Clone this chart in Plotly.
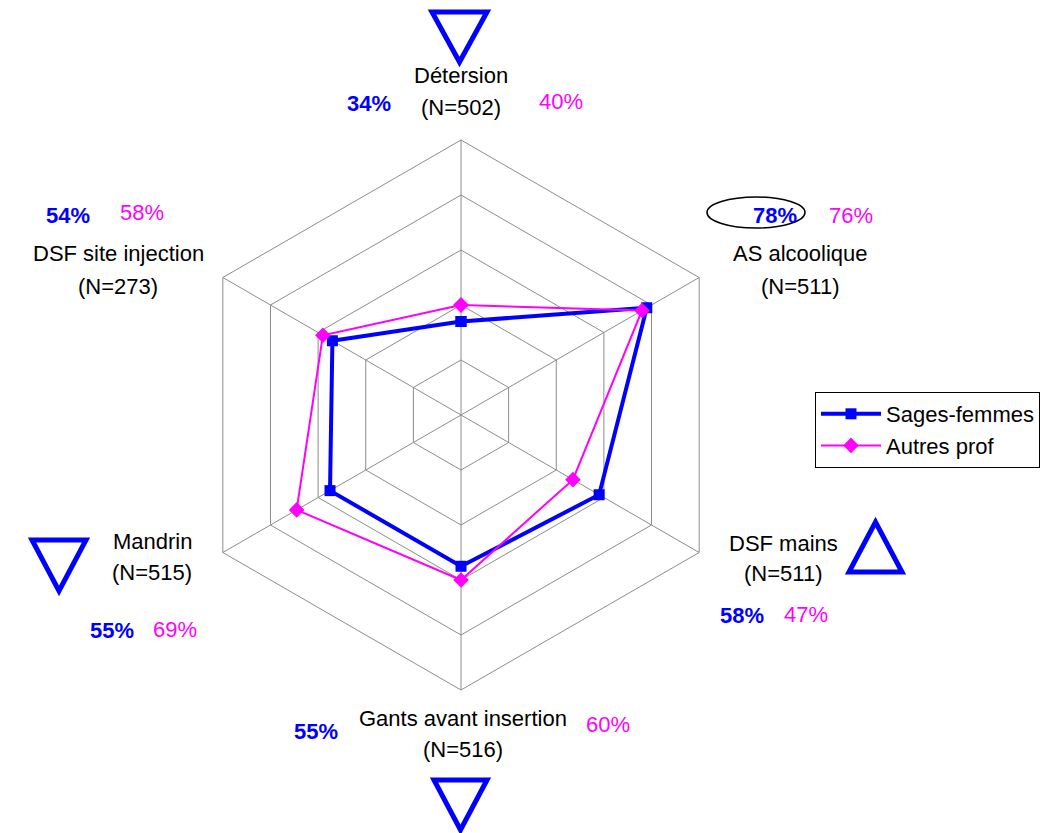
import plotly.graph_objects as go

W, H = 1052, 833
OFF = 8  # page body margin

categories = ["Détersion", "AS alcoolique", "DSF mains", "Gants avant insertion", "Mandrin", "DSF site injection"]
sages_femmes = [34, 78, 58, 55, 55, 54]
autres_prof = [40, 76, 47, 60, 69, 58]
n_labels = ["(N=502)", "(N=511)", "(N=511)", "(N=516)", "(N=515)", "(N=273)"]
series_names = ["Sages-femmes", "Autres prof"]

BLUE = "#0000FF"
MAG = "#FF00FF"
FONT = "Liberation Sans, Arial, sans-serif"
FS = 22


def px(x):
    return (x - OFF) / W


def py(y):
    return 1 - (y - OFF) / H


fig = go.Figure()
fig.add_trace(go.Scatterpolar(
    r=[v / 100 for v in sages_femmes] + [sages_femmes[0] / 100],
    theta=categories + [categories[0]],
    mode="lines+markers", name=series_names[0],
    line=dict(color=BLUE, width=4),
    marker=dict(symbol="square", size=11, color=BLUE),
))
fig.add_trace(go.Scatterpolar(
    r=[v / 100 for v in autres_prof] + [autres_prof[0] / 100],
    theta=categories + [categories[0]],
    mode="lines+markers", name=series_names[1],
    line=dict(color=MAG, width=2),
    marker=dict(symbol="diamond", size=12, color=MAG),
))

cx, cy, R = 461, 415, 275
fig.update_layout(
    width=W, height=H,
    margin=dict(l=0, r=0, t=0, b=0, autoexpand=False),
    paper_bgcolor="white", plot_bgcolor="white",
    font=dict(family=FONT, size=FS, color="black"),
    polar=dict(
        domain=dict(x=[px(cx - R), px(cx + R)], y=[py(cy + R), py(cy - R)]),
        gridshape="linear",
        bgcolor="white",
        angularaxis=dict(rotation=90, direction="clockwise", showticklabels=False,
                         ticks="", showline=True, linecolor="#8c8c8c", linewidth=1,
                         gridcolor="#8c8c8c", gridwidth=1),
        radialaxis=dict(range=[0, 1], dtick=0.2, showticklabels=False, ticks="",
                        showline=False, gridcolor="#8c8c8c", gridwidth=1),
    ),
    legend=dict(x=px(815), y=py(392), xanchor="left", yanchor="top",
                bordercolor="black", borderwidth=1, bgcolor="white",
                font=dict(family=FONT, size=FS, color="black"),
                itemwidth=60, tracegroupgap=4),
)

# Category labels and percentages
label_pos = [
    (461, 76, 461, 107, (369, 104), (561, 101)),
    (800, 254, 800, 286, (775, 215), (851, 216)),
    (783, 543, 783, 573, (742, 615), (806, 614)),
    (463, 718, 463, 749, (316, 731), (608, 724)),
    (152, 541, 152, 572, (112, 630), (175, 629)),
    (118, 254, 118, 286, (68, 215), (142, 213)),
]


def ann(x, y, text, color, bold=False):
    fig.add_annotation(x=px(x), y=py(y), xref="paper", yref="paper",
                       text=("<b>%s</b>" % text) if bold else text,
                       xanchor="center", yanchor="middle", showarrow=False,
                       font=dict(family=FONT, size=FS, color=color))


for i, (lx, ly, nx, ny, sp, ap) in enumerate(label_pos):
    ann(lx, ly, categories[i], "black")
    ann(nx, ny, n_labels[i], "black")
    ann(sp[0], sp[1], "%d%%" % sages_femmes[i], BLUE, bold=True)
    ann(ap[0], ap[1], "%d%%" % autres_prof[i], MAG)


def tri(x0, x1, ytop, ybot, down=True):
    xm = (x0 + x1) / 2
    if down:
        pts = [(x0, ytop), (x1, ytop), (xm, ybot)]
    else:
        pts = [(x0, ybot), (x1, ybot), (xm, ytop)]
    path = "M " + " L ".join("%f,%f" % (px(a), py(b)) for a, b in pts) + " Z"
    fig.add_shape(type="path", path=path, xref="paper", yref="paper",
                  line=dict(color=BLUE, width=5), fillcolor="rgba(0,0,0,0)")


tri(432, 487, 12, 62, down=True)
tri(32, 86, 540, 591, down=True)
tri(434, 487, 780, 830, down=True)
tri(849, 902, 522, 572, down=False)

fig.add_shape(type="circle", xref="paper", yref="paper",
              x0=px(707), x1=px(805), y0=py(228), y1=py(197),
              line=dict(color="black", width=1.5))

fig.write_html("out.html")
